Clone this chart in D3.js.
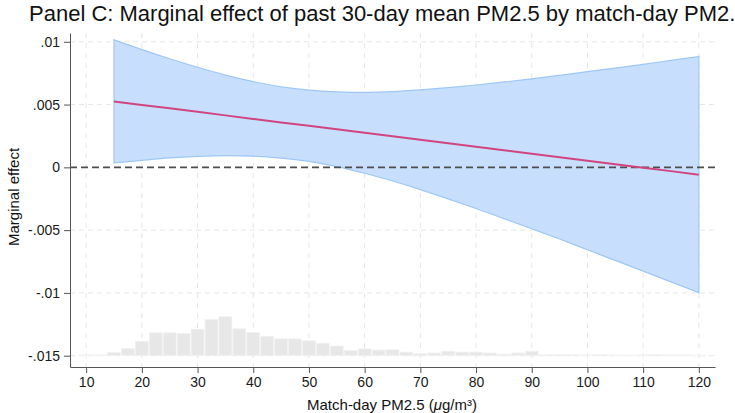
<!DOCTYPE html>
<html>
<head>
<meta charset="utf-8">
<script src="https://cdn.jsdelivr.net/npm/d3@7"></script>
<style>
  body { margin: 0; background: #fff; overflow: hidden; }
  svg { display: block; font-family: "Liberation Sans", Arial, Helvetica, sans-serif; }
</style>
</head>
<body>
<svg id="chart" width="735" height="413"></svg>
<script>
// match-day PM2.5 values where the marginal effect is evaluated
var pmGrid = [15, 20, 25, 30, 35, 40, 45, 50, 55, 60, 65, 70, 75, 80, 85, 90, 95, 100, 105, 110, 115, 120];
var effect = [0.00525, 0.00497, 0.00470, 0.00442, 0.00414, 0.00386, 0.00358, 0.00331, 0.00303, 0.00275, 0.00247,
              0.00220, 0.00192, 0.00164, 0.00136, 0.00108, 0.00081, 0.00053, 0.00025, -0.00003, -0.00030, -0.00058];
var ciUpper = [0.01015, 0.00938, 0.00865, 0.00797, 0.00735, 0.00683, 0.00642, 0.00615, 0.00601, 0.00597, 0.00603,
               0.00617, 0.00635, 0.00656, 0.00680, 0.00705, 0.00733, 0.00762, 0.00791, 0.00820, 0.00852, 0.00882];
var ciLower = [0.00035, 0.00056, 0.00075, 0.00087, 0.00093, 0.00089, 0.00074, 0.00047, 0.00006, -0.00047, -0.00109,
               -0.00177, -0.00251, -0.00328, -0.00408, -0.00489, -0.00571, -0.00656, -0.00741, -0.00826, -0.00912, -0.00998];

// histogram of match-day PM2.5 (bin centres, percent of matches)
var binCenters = [10, 12.5, 15, 17.5, 20, 22.5, 25, 27.5, 30, 32.5, 35, 37.5, 40, 42.5, 45, 47.5, 50, 52.5, 55, 57.5,
                  60, 62.5, 65, 67.5, 70, 72.5, 75, 77.5, 80, 82.5, 85, 87.5, 90, 92.5, 95, 97.5, 100, 102.5, 105,
                  107.5, 110, 112.5, 115, 117.5, 120];
var binPct = [0.2, 0.2, 0.8, 1.8, 3.6, 5.7, 5.7, 5.5, 6.6, 9.0, 9.7, 6.7, 5.8, 4.8, 4.2, 4.2, 3.7, 3.1, 2.4, 1.3,
              1.7, 1.4, 1.5, 0.9, 0.5, 0.7, 1.1, 0.9, 0.9, 0.7, 0.4, 0.7, 1.1, 0.25, 0.25, 0.25, 0.2, 0.3, 0.2,
              0.12, 0.2, 0.25, 0.2, 0.2, 0.12];
var binWidth = 2.5;

var xTicks = [10, 20, 30, 40, 50, 60, 70, 80, 90, 100, 110, 120];
var yTicks = [0.01, 0.005, 0, -0.005, -0.01, -0.015];
var yTickLabels = [".01", ".005", "0", "-.005", "-.01", "-.015"];

var svg = d3.select("#chart");
var plotL = 70, plotR = 715, plotT = 33, plotB = 367;

var x = d3.scaleLinear().domain([7.1, 122.9]).range([plotL, plotR]);
var y = d3.scaleLinear().domain([-0.0159, 0.0107]).range([plotB, plotT]);
var h = d3.scaleLinear().domain([0, 9.7]).range([0, 39]); // histogram height in px

// grid
svg.append("g").selectAll("line")
  .data(xTicks).enter().append("line")
  .attr("x1", function(d) { return x(d); }).attr("x2", function(d) { return x(d); })
  .attr("y1", plotT).attr("y2", plotB)
  .attr("stroke", "#e6e6e6").attr("stroke-dasharray", "5,5");
svg.append("g").selectAll("line")
  .data(yTicks.filter(function(d) { return d !== 0; })).enter().append("line")
  .attr("x1", plotL).attr("x2", plotR)
  .attr("y1", function(d) { return y(d); }).attr("y2", function(d) { return y(d); })
  .attr("stroke", "#e6e6e6").attr("stroke-dasharray", "5,4");

// histogram
var base = y(-0.015);
svg.append("g").selectAll("rect")
  .data(binCenters).enter().append("rect")
  .attr("x", function(d) { return x(d - binWidth / 2) + 0.5; })
  .attr("width", function(d) { return x(d + binWidth / 2) - x(d - binWidth / 2) - 1; })
  .attr("y", function(d, i) { return base - h(binPct[i]); })
  .attr("height", function(d, i) { return h(binPct[i]); })
  .attr("fill", "#e7e7e7").attr("stroke", "#f2f2f2").attr("stroke-width", 0.8);

// confidence band
var area = d3.area()
  .x(function(d) { return x(d); })
  .y0(function(d, i) { return y(ciLower[i]); })
  .y1(function(d, i) { return y(ciUpper[i]); })
  .curve(d3.curveMonotoneX);
svg.append("path").datum(pmGrid)
  .attr("d", area)
  .attr("fill", "#c7dffc").attr("stroke", "#9ec7f7").attr("stroke-width", 1.2);

// zero line
svg.append("line")
  .attr("x1", plotL).attr("x2", plotR)
  .attr("y1", y(0)).attr("y2", y(0))
  .attr("stroke", "#4d4d4d").attr("stroke-width", 1.6).attr("stroke-dasharray", "7,4");

// point estimate
var line = d3.line()
  .x(function(d) { return x(d); })
  .y(function(d, i) { return y(effect[i]); });
svg.append("path").datum(pmGrid)
  .attr("d", line)
  .attr("fill", "none").attr("stroke", "#d1457f").attr("stroke-width", 2);

// axes
var xAxis = svg.append("g").attr("transform", "translate(0," + plotB + ")")
  .call(d3.axisBottom(x).tickValues(xTicks).tickSize(6).tickPadding(4).tickSizeOuter(0));
var yAxis = svg.append("g").attr("transform", "translate(" + plotL + ",0)")
  .call(d3.axisLeft(y).tickValues(yTicks).tickSize(6).tickPadding(4).tickSizeOuter(0)
    .tickFormat(function(d, i) { return yTickLabels[i]; }));
[xAxis, yAxis].forEach(function(a) {
  a.select(".domain").attr("stroke", "#555");
  a.selectAll(".tick line").attr("stroke", "#555");
  a.selectAll(".tick text").attr("fill", "#1a1a1a").style("font-size", "14px")
    .style("font-family", "'Liberation Sans', Arial, sans-serif");
});

// titles
svg.append("text")
  .attr("x", 29).attr("y", 21)
  .style("font-size", "22px").attr("fill", "#111")
  .text("Panel C: Marginal effect of past 30-day mean PM2.5 by match-day PM2.5");

svg.append("text")
  .attr("transform", "translate(19,197) rotate(-90)")
  .attr("text-anchor", "middle")
  .style("font-size", "15px").attr("fill", "#111")
  .text("Marginal effect");

var xl = svg.append("text")
  .attr("x", 392).attr("y", 410)
  .attr("text-anchor", "middle")
  .style("font-size", "15px").attr("fill", "#111");
xl.append("tspan").text("Match-day PM2.5 (");
xl.append("tspan").style("font-style", "italic").text("\u03bc");
xl.append("tspan").text("g/m\u00b3)");
</script>
</body>
</html>
